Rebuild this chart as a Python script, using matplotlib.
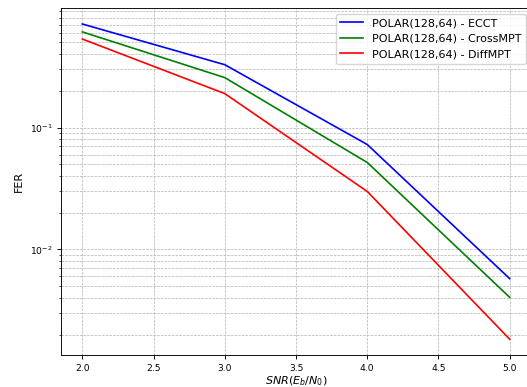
import matplotlib
matplotlib.use('Agg')
import matplotlib.pyplot as plt

snr = [2.0, 3.0, 4.0, 5.0]
fer_ecct = [0.708, 0.328, 0.0726, 0.00575]
fer_cross = [0.61, 0.257, 0.0517, 0.00404]
fer_diff = [0.533, 0.19, 0.0299, 0.00183]

fig = plt.figure(figsize=(5.27, 3.87), dpi=100)
ax = fig.add_axes([0.1157, 0.0827, 0.892, 0.896])

ax.plot(snr, fer_ecct, color='blue', linewidth=1.2, label='POLAR(128,64) - ECCT')
ax.plot(snr, fer_cross, color='green', linewidth=1.2, label='POLAR(128,64) - CrossMPT')
ax.plot(snr, fer_diff, color='red', linewidth=1.2, label='POLAR(128,64) - DiffMPT')

ax.set_yscale('log')
ax.grid(True, which='both', linestyle='--', linewidth=0.5, color='#b0b0b0')
ax.set_xlabel('$SNR(E_b/N_0)$', fontsize=8, labelpad=1)
ax.set_ylabel('FER', fontsize=8)
ax.tick_params(axis='both', which='major', labelsize=6.6, length=2.8, width=0.65)
ax.tick_params(axis='y', which='minor', length=1.6, width=0.5)
for s in ax.spines.values():
    s.set_linewidth(0.65)
ax.spines['right'].set_visible(False)
ax.legend(loc='upper right', fontsize=8)

fig.savefig('out.png', dpi=100)
